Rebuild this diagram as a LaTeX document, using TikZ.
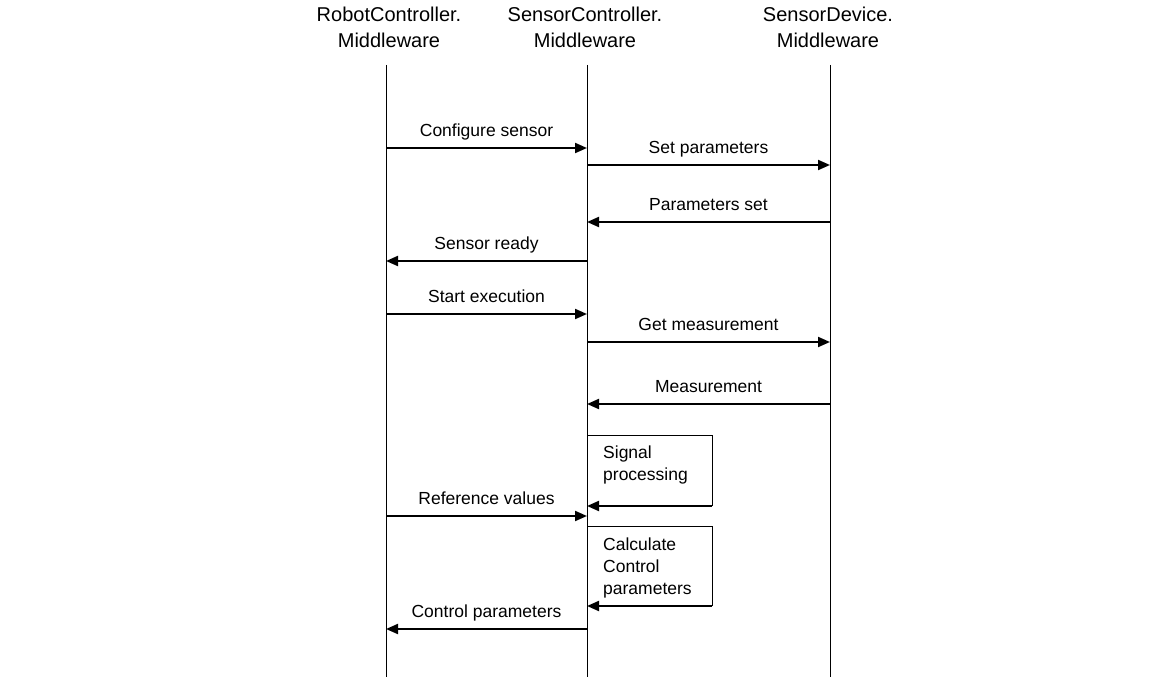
\documentclass[tikz,border=0pt]{standalone}
\usepackage{fontspec}
\setmainfont{Liberation Sans}
\usetikzlibrary{arrows.meta,positioning}
\begin{document}
\begin{tikzpicture}[x=1pt,y=-1pt,head/.style={align=center,anchor=north,inner sep=0pt,font=\fontsize{20}{26}\selectfont},life/.style={line width=1pt},msg/.style={line width=2pt,-{Triangle[length=12pt,width=10pt]}},lbl/.style={midway,above=3pt,text depth=4pt,font=\fontsize{17.5}{22}\selectfont},proc/.style={line width=1pt},note/.style={align=left,anchor=north west,inner sep=0pt,font=\fontsize{17.5}{22}\selectfont}]
\useasboundingbox (0,0) rectangle (1149,677);
\node[head] (rch) at (389,7) {RobotController.\\Middleware};
\node[head] (sch) at (585,7) {SensorController.\\Middleware};
\node[head] (sdh) at (828,7) {SensorDevice.\\Middleware};
\coordinate (rc) at (386,65);
\coordinate (sc) at (587,65);
\coordinate (sd) at (830,65);
\draw[life] (rc) -- (rc |- 0,677);
\draw[life] (sc) -- (sc |- 0,677);
\draw[life] (sd) -- (sd |- 0,677);
% messages
\coordinate (m1) at (rc |- 0,148);
\draw[msg] (m1) -- (m1 -| sc) node[lbl] {Configure sensor};
\coordinate (m2) at (sc |- 0,165);
\draw[msg] (m2) -- (m2 -| sd) node[lbl] {Set parameters};
\coordinate (m3) at (sd |- 0,222);
\draw[msg] (m3) -- (m3 -| sc) node[lbl] {Parameters set};
\coordinate (m4) at (sc |- 0,261);
\draw[msg] (m4) -- (m4 -| rc) node[lbl] {Sensor ready};
\coordinate (m5) at (rc |- 0,314);
\draw[msg] (m5) -- (m5 -| sc) node[lbl] {Start execution};
\coordinate (m6) at (sc |- 0,342);
\draw[msg] (m6) -- (m6 -| sd) node[lbl] {Get measurement};
\coordinate (m7) at (sd |- 0,404);
\draw[msg] (m7) -- (m7 -| sc) node[lbl] {Measurement};
% signal processing
\coordinate (p1) at (sc |- 0,435);
\draw[proc] (p1) -| (712,506) coordinate (p1e);
\draw[msg] (p1e) -- (p1e -| sc);
\node[note] (sp) at (603,446) {Signal\\processing};
\coordinate (m8) at (rc |- 0,516);
\draw[msg] (m8) -- (m8 -| sc) node[lbl] {Reference values};
% control calculation
\coordinate (p2) at (sc |- 0,526);
\draw[proc] (p2) -| (712,606) coordinate (p2e);
\draw[msg] (p2e) -- (p2e -| sc);
\node[note] (cc) at (603,538) {Calculate\\Control\\parameters};
\coordinate (m9) at (sc |- 0,629);
\draw[msg] (m9) -- (m9 -| rc) node[lbl] {Control parameters};
\end{tikzpicture}
\end{document}
